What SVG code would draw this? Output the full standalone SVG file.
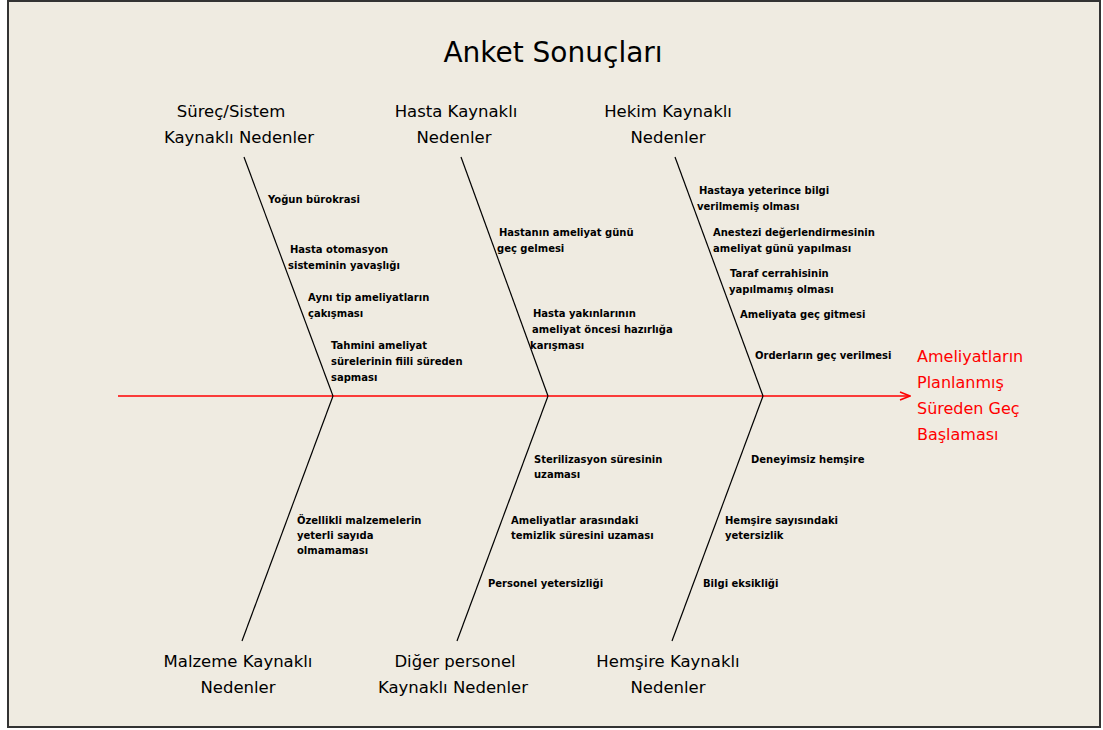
<svg xmlns="http://www.w3.org/2000/svg" width="1103" height="730" viewBox="0 0 1103 730">
  <style>
    .title { font-family: "DejaVu Sans", "Liberation Sans", sans-serif; font-size: 28px; fill: #000; }
    .cat { font-family: "DejaVu Sans", "Liberation Sans", sans-serif; font-size: 16.5px; fill: #000; text-anchor: middle; }
    .cause { font-family: "DejaVu Sans", "Liberation Sans", sans-serif; font-size: 10px; font-weight: bold; fill: #000; }
    .effect { font-family: "DejaVu Sans", "Liberation Sans", sans-serif; font-size: 16px; fill: #ff0000; }
    .bone { stroke: #000; stroke-width: 1.2; fill: none; }
    .spine { stroke: #ff0000; stroke-width: 1.5; fill: none; }
  </style>
  <defs>
    <marker id="arrow" viewBox="0 0 12 10" refX="11" refY="5" markerWidth="12" markerHeight="10" markerUnits="userSpaceOnUse" orient="auto">
      <path d="M1,1 L11,5 L1,9" fill="none" stroke="#ff0000" stroke-width="1.5"/>
    </marker>
  </defs>

  <!-- canvas and frame -->
  <rect x="0" y="0" width="1103" height="730" fill="#ffffff"/>
  <rect x="8" y="1" width="1092" height="726" fill="#efebe1" stroke="#333333" stroke-width="2"/>

  <text class="title" x="553" y="62" text-anchor="middle">Anket Sonuçları</text>

  <!-- connectors: spine and category bones -->
  <g id="connectors">
    <line class="spine" x1="118" y1="396" x2="910" y2="396" marker-end="url(#arrow)"/>
    <line class="bone" x1="244" y1="157" x2="333" y2="396"/>
    <line class="bone" x1="461" y1="157" x2="548" y2="396"/>
    <line class="bone" x1="675" y1="157" x2="763" y2="396"/>
    <line class="bone" x1="333" y1="396" x2="242" y2="641"/>
    <line class="bone" x1="548" y1="396" x2="457" y2="641"/>
    <line class="bone" x1="763" y1="396" x2="672" y2="641"/>
  </g>

  <!-- effect -->
  <g id="effect">
    <text class="effect" x="917" y="362">Ameliyatların</text>
    <text class="effect" x="917" y="388">Planlanmış</text>
    <text class="effect" x="917" y="414">Süreden Geç</text>
    <text class="effect" x="917" y="440">Başlaması</text>
  </g>

  <!-- top categories -->
  <g id="surec-sistem">
    <text class="cat" x="231" y="117">Süreç/Sistem</text>
    <text class="cat" x="239" y="143">Kaynaklı Nedenler</text>
    <text class="cause" x="268" y="203">Yoğun bürokrasi</text>
    <text class="cause" x="290" y="253">Hasta otomasyon</text>
    <text class="cause" x="288" y="269">sisteminin yavaşlığı</text>
    <text class="cause" x="308" y="301">Aynı tip ameliyatların</text>
    <text class="cause" x="308" y="317">çakışması</text>
    <text class="cause" x="331" y="349">Tahmini ameliyat</text>
    <text class="cause" x="331" y="365">sürelerinin fiili süreden</text>
    <text class="cause" x="331" y="381">sapması</text>
  </g>

  <g id="hasta">
    <text class="cat" x="456" y="117">Hasta Kaynaklı</text>
    <text class="cat" x="454" y="143">Nedenler</text>
    <text class="cause" x="499" y="236">Hastanın ameliyat günü</text>
    <text class="cause" x="497" y="252">geç gelmesi</text>
    <text class="cause" x="533" y="317">Hasta yakınlarının</text>
    <text class="cause" x="532" y="333">ameliyat öncesi hazırlığa</text>
    <text class="cause" x="530" y="349">karışması</text>
  </g>

  <g id="hekim">
    <text class="cat" x="668" y="117">Hekim Kaynaklı</text>
    <text class="cat" x="668" y="143">Nedenler</text>
    <text class="cause" x="699" y="194">Hastaya yeterince bilgi</text>
    <text class="cause" x="697" y="210">verilmemiş olması</text>
    <text class="cause" x="713" y="236">Anestezi değerlendirmesinin</text>
    <text class="cause" x="713" y="252">ameliyat günü yapılması</text>
    <text class="cause" x="730" y="277">Taraf cerrahisinin</text>
    <text class="cause" x="729" y="293">yapılmamış olması</text>
    <text class="cause" x="740" y="318">Ameliyata geç gitmesi</text>
    <text class="cause" x="755" y="359">Orderların geç verilmesi</text>
  </g>

  <!-- bottom categories -->
  <g id="malzeme">
    <text class="cat" x="238" y="667">Malzeme Kaynaklı</text>
    <text class="cat" x="238" y="693">Nedenler</text>
    <text class="cause" x="297" y="524">Özellikli malzemelerin</text>
    <text class="cause" x="297" y="539">yeterli sayıda</text>
    <text class="cause" x="297" y="554">olmamaması</text>
  </g>

  <g id="diger-personel">
    <text class="cat" x="455" y="667">Diğer personel</text>
    <text class="cat" x="453" y="693">Kaynaklı Nedenler</text>
    <text class="cause" x="534" y="463">Sterilizasyon süresinin</text>
    <text class="cause" x="534" y="478">uzaması</text>
    <text class="cause" x="511" y="524">Ameliyatlar arasındaki</text>
    <text class="cause" x="511" y="539">temizlik süresini uzaması</text>
    <text class="cause" x="488" y="587">Personel yetersizliği</text>
  </g>

  <g id="hemsire">
    <text class="cat" x="668" y="667">Hemşire Kaynaklı</text>
    <text class="cat" x="668" y="693">Nedenler</text>
    <text class="cause" x="751" y="463">Deneyimsiz hemşire</text>
    <text class="cause" x="725" y="524">Hemşire sayısındaki</text>
    <text class="cause" x="725" y="539">yetersizlik</text>
    <text class="cause" x="703" y="587">Bilgi eksikliği</text>
  </g>
</svg>
